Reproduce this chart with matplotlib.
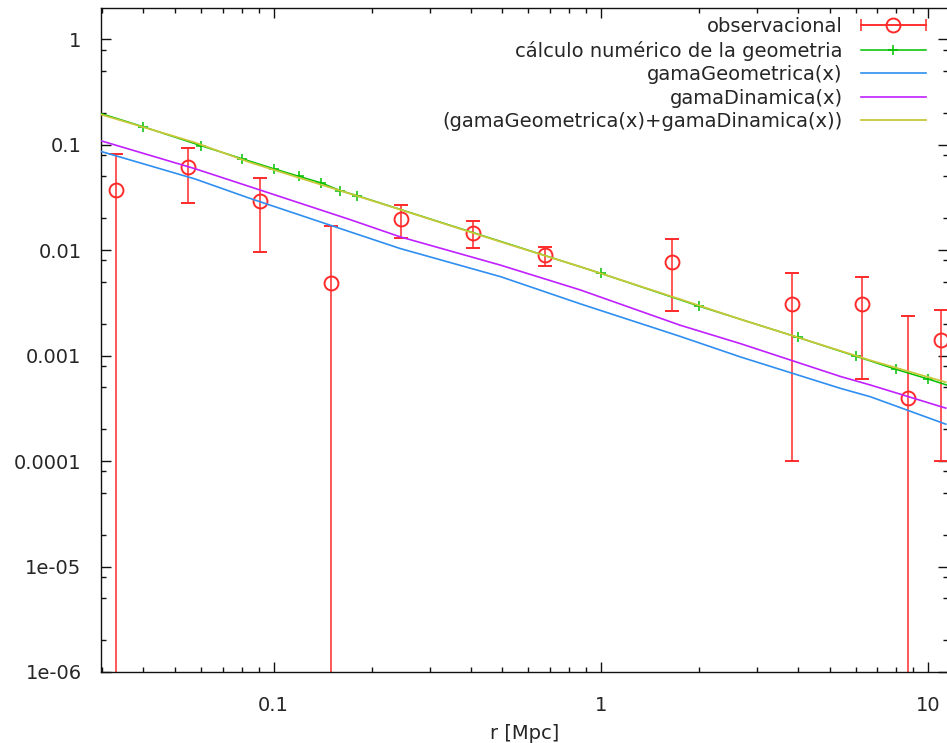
import matplotlib
matplotlib.use("Agg")
import matplotlib.pyplot as plt
from matplotlib.lines import Line2D
from matplotlib.legend_handler import HandlerLine2D, HandlerTuple
import numpy as np

# ---------------- data ----------------
obs_r = [0.0331, 0.0546, 0.0907, 0.1495, 0.2458, 0.408, 0.673, 1.65, 3.84, 6.26, 8.67, 10.97]
obs_g = [0.0373, 0.0610, 0.0291, 0.00491, 0.0198, 0.0147, 0.00891, 0.00773, 0.00306, 0.00306, 0.000395, 0.00141]
obs_err = [0.0444, 0.0330, 0.0194, 0.0122, 0.0068, 0.0041, 0.0019, 0.0051, 0.00296, 0.00246, 0.00198, 0.00131]

num_r = [0.02, 0.04, 0.06, 0.08, 0.1, 0.12, 0.14, 0.16, 0.18, 1, 2, 4, 6, 8, 10, 12]
num_g = [0.29, 0.148, 0.098, 0.0738, 0.0593, 0.050, 0.0434, 0.0367, 0.0329,
         0.00603, 0.00294, 0.00149, 0.00099, 0.00074, 0.00060, 0.0005]

fun_r = [0.0297, 0.0575, 0.0847, 0.1713, 0.2434, 0.4946, 0.865, 1.75, 2.67, 5.40, 6.67, 11.32]
geo_g = [0.0864, 0.0474, 0.0310, 0.01493, 0.01038, 0.0056, 0.0031, 0.00152, 0.000972, 0.000489, 0.000407, 0.000224]
din_g = [0.109, 0.0593, 0.0400, 0.0195, 0.0134, 0.0072, 0.0042, 0.00194, 0.00130, 0.000634, 0.000526, 0.000318]
sum_g = [0.1935, 0.105, 0.068, 0.0343, 0.0243, 0.0120, 0.00697, 0.00342, 0.00221, 0.00111, 0.000901, 0.00056]

labels = ["observacional", "cálculo numérico de la geometria", "gamaGeometrica(x)",
          "gamaDinamica(x)", "(gamaGeometrica(x)+gamaDinamica(x))"]
xlabel = "r [Mpc]"
yticks = [1e-6, 1e-5, 1e-4, 1e-3, 1e-2, 1e-1, 1]
yticklabels = ["1e-06", "1e-05", "0.0001", "0.001", "0.01", "0.1", "1"]
xticks = [0.1, 1, 10]
xticklabels = ["0.1", "1", "10"]

# ---------------- style ----------------
C_RED = "#ff2a2a"
C_GREEN = "#00c000"
C_BLUE = "#2f8ff0"
C_MAG = "#c020ff"
C_YEL = "#c8c83a"
TXT = "#262626"
FS = 14

plt.rcParams["font.family"] = ["DejaVu Sans"]

W, H = 947, 743
fig = plt.figure(figsize=(W / 100, H / 100), dpi=100)
ax = fig.add_axes([101 / W, 1 - 672 / H, (948 - 101) / W, (672 - 8) / H])
ax.set_xscale("log")
ax.set_yscale("log")

obs_g_a = np.array(obs_g)
obs_e_a = np.array(obs_err)
low = np.maximum(obs_g_a - obs_e_a, 1e-12)
yerr = np.vstack([obs_g_a - low, obs_e_a])

ax.errorbar(obs_r, obs_g, yerr=yerr, fmt="o", color=C_RED, ecolor=C_RED,
            elinewidth=1.1, capsize=5, capthick=1.1, markersize=10,
            markerfacecolor="none", markeredgewidth=1.4, zorder=2)
ax.plot(num_r, num_g, color=C_GREEN, lw=1.1, marker="+", markersize=7,
        markeredgewidth=1.1, zorder=3)
ax.plot(fun_r, geo_g, color=C_BLUE, lw=1.2, zorder=4)
ax.plot(fun_r, din_g, color=C_MAG, lw=1.2, zorder=5)
ax.plot(fun_r, sum_g, color=C_YEL, lw=1.3, zorder=6)

ax.set_xlim(0.0297, 11.5)
ax.set_ylim(1e-6, 1.98)

ax.xaxis.set_major_locator(matplotlib.ticker.FixedLocator(xticks))
ax.xaxis.set_major_formatter(matplotlib.ticker.FixedFormatter(xticklabels))
ax.xaxis.set_minor_locator(matplotlib.ticker.LogLocator(base=10, subs=np.arange(2, 10), numticks=20))
ax.xaxis.set_minor_formatter(matplotlib.ticker.NullFormatter())
ax.yaxis.set_major_locator(matplotlib.ticker.FixedLocator(yticks))
ax.yaxis.set_major_formatter(matplotlib.ticker.FixedFormatter(yticklabels))
ax.yaxis.set_minor_locator(matplotlib.ticker.LogLocator(base=10, subs=[2, 5, 8], numticks=20))
ax.yaxis.set_minor_formatter(matplotlib.ticker.NullFormatter())

ax.tick_params(which="both", direction="in", top=True, right=True, colors="#111111",
               labelcolor=TXT, labelsize=FS, width=1.0)
ax.tick_params(which="major", length=7)
ax.tick_params(which="minor", length=3.5)
ax.tick_params(axis="y", which="major", pad=14)
ax.tick_params(axis="x", which="major", pad=17)
for s in ax.spines.values():
    s.set_color("#111111")
    s.set_linewidth(1.0)

ax.set_xlabel(xlabel, fontsize=FS, color=TXT, labelpad=7)

# legend (gnuplot style: text right-aligned, sample on the right)
caps = Line2D([], [], color=C_RED, lw=1.1, marker="|", markersize=9, markeredgewidth=1.1)
circ = Line2D([], [], color=C_RED, lw=1.1, marker="o", markersize=10,
              markerfacecolor="none", markeredgewidth=1.4)
h_num = Line2D([], [], color=C_GREEN, lw=1.1, marker="+", markersize=7, markeredgewidth=1.1)
h_geo = Line2D([], [], color=C_BLUE, lw=1.2)
h_din = Line2D([], [], color=C_MAG, lw=1.2)
h_sum = Line2D([], [], color=C_YEL, lw=1.3)
leg = ax.legend([(caps, circ), h_num, h_geo, h_din, h_sum], labels,
                loc="upper right", bbox_to_anchor=(0.974, 0.986), frameon=False,
                markerfirst=False, fontsize=FS, handlelength=3.35, handletextpad=0.93,
                labelspacing=0.23, borderpad=0, borderaxespad=0, numpoints=1,
                handler_map={caps: HandlerLine2D(numpoints=2, marker_pad=0),
                             tuple: HandlerTuple(ndivide=1, pad=0)})
for t in leg.get_texts():
    t.set_color(TXT)

fig.savefig("out.png", dpi=100)
